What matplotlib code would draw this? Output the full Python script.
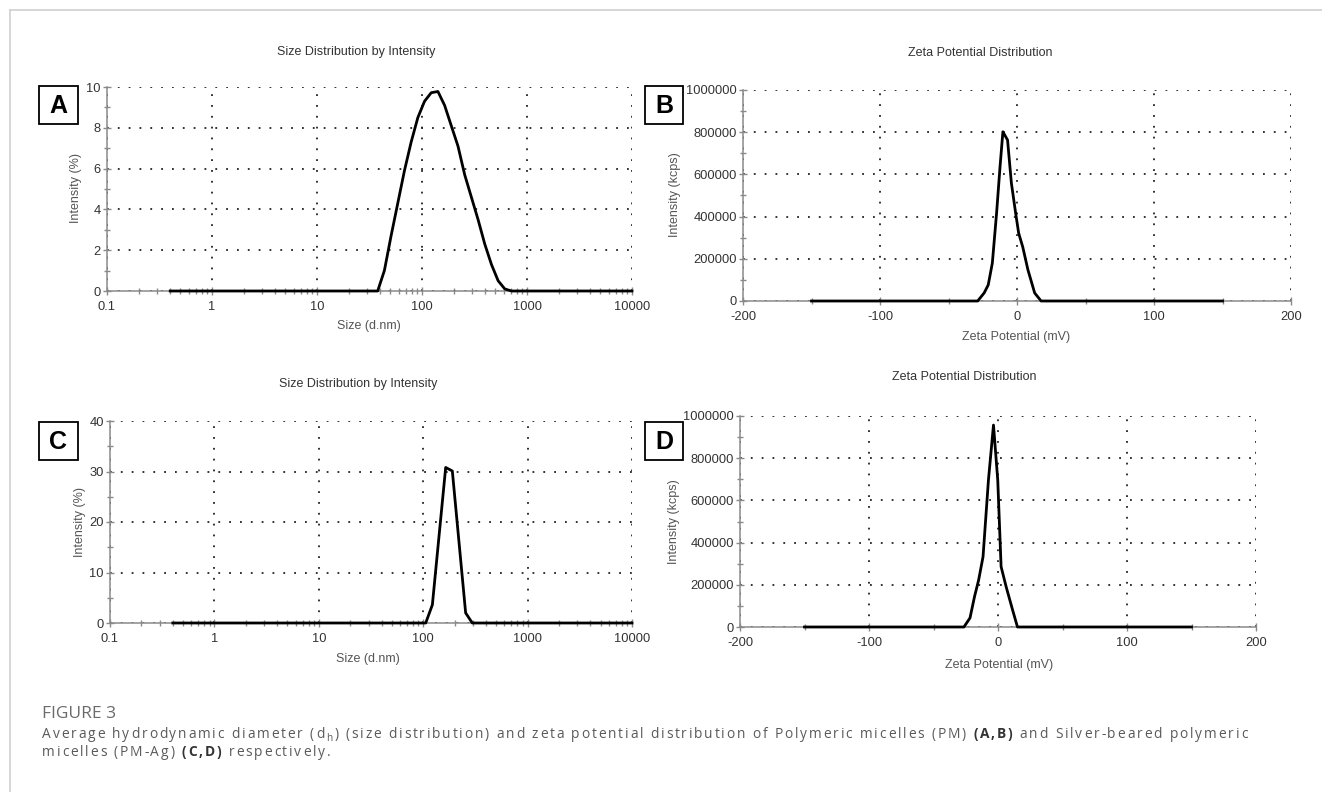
import matplotlib
matplotlib.use("Agg")
import matplotlib.pyplot as plt
from matplotlib import font_manager, ft2font
from matplotlib.font_manager import FontProperties
from matplotlib.patches import Rectangle
from matplotlib.lines import Line2D
from matplotlib.ticker import LogLocator, NullFormatter, MultipleLocator

# ---- data ----
# A: size distribution, polymeric micelles (PM)
size_a = [0.4, 37.84, 43.82, 50.75, 58.77, 68.06, 78.82, 91.28, 105.7, 122.4, 141.8,
          164.2, 190.1, 220.2, 255.0, 295.3, 342.0, 396.1, 458.7, 531.2, 615.1, 712.4, 10000]
int_a = [0, 0, 1.0, 2.7, 4.3, 5.9, 7.3, 8.5, 9.3, 9.72, 9.78,
         9.1, 8.1, 7.1, 5.7, 4.6, 3.5, 2.3, 1.3, 0.5, 0.1, 0, 0]

# B: zeta potential, PM
zeta_b = [-150, -28.7, -24, -21, -18, -14.9, -12.4, -10.3, -6.9, -4.1, -1, 1.2, 4.2, 8, 12.9, 17.6, 150]
kcps_b = [0, 0, 38000, 76000, 180000, 417000, 635000, 802000, 763000, 559000, 417000,
          322000, 256000, 147000, 38000, 0, 0]

# C: size distribution, silver-beared micelles (PM-Ag)
size_c = [0.4, 105.7, 122.4, 164.2, 190.1, 255.0, 295.3, 10000]
int_c = [0, 0, 3.6, 30.8, 30.1, 2.0, 0, 0]

# D: zeta potential, PM-Ag
zeta_d = [-150, -26.4, -21.7, -18.2, -15, -11.6, -7.4, -3.5, -0.2, 2.4, 6.3, 11.3, 15.1, 150]
kcps_d = [0, 0, 43000, 144000, 223000, 333000, 697000, 957000, 697000, 286000, 191000, 81000, 0, 0]

size_ticks = [0.1, 1, 10, 100, 1000, 10000]
size_labels = ["0.1", "1", "10", "100", "1000", "10000"]
zeta_ticks = [-200, -100, 0, 100, 200]
kcps_ticks = [0, 200000, 400000, 600000, 800000, 1000000]

W, H = 1322, 792
plt.rcParams['font.family'] = ['Liberation Sans', 'DejaVu Sans']

fig = plt.figure(figsize=(W / 100, H / 100), dpi=100)


def box(l, t, r, b):
    # pixel box (top-left origin) -> figure fraction rect
    return [l / W, 1 - b / H, (r - l) / W, (b - t) / H]


def ftext(x, y, s, **kw):
    return fig.text(x / W, 1 - y / H, s, **kw)


def style_axes(ax):
    for side in ["top", "right"]:
        ax.spines[side].set_visible(False)
    for side in ["left", "bottom"]:
        ax.spines[side].set_color("#8a8a8a")
        ax.spines[side].set_linewidth(1.1)
    ax.grid(True, which="major", linestyle=(0, (1, 5)), color="#222222", linewidth=1.3)
    ax.tick_params(which="major", direction="inout", length=6, width=1, color="#8a8a8a",
                   labelsize=9.3, labelcolor="#333333")
    ax.tick_params(which="minor", direction="inout", length=4, width=1, color="#8a8a8a")
    ax.tick_params(axis="x", which="major", pad=4)
    ax.tick_params(axis="y", which="major", pad=1.5)


def size_panel(rect, xs, ys, ymax, ystep):
    ax = fig.add_axes(rect)
    ax.set_xscale("log")
    ax.set_xlim(0.1, 10000)
    ax.set_ylim(0, ymax)
    ax.set_xticks(size_ticks)
    ax.set_xticklabels(size_labels)
    ax.xaxis.set_minor_locator(LogLocator(base=10, subs=range(2, 10), numticks=20))
    ax.xaxis.set_minor_formatter(NullFormatter())
    ax.yaxis.set_major_locator(MultipleLocator(ystep))
    ax.yaxis.set_minor_locator(MultipleLocator(ystep / 2))
    style_axes(ax)
    ax.plot(xs, ys, color="black", linewidth=2, clip_on=False, zorder=3,
            solid_joinstyle="round")
    return ax


def zeta_panel(rect, xs, ys):
    ax = fig.add_axes(rect)
    ax.set_xlim(-200, 200)
    ax.set_ylim(0, 1000000)
    ax.set_xticks(zeta_ticks)
    ax.set_xticklabels([str(v) for v in zeta_ticks])
    ax.xaxis.set_minor_locator(MultipleLocator(50))
    ax.set_yticks(kcps_ticks)
    ax.set_yticklabels([str(v) for v in kcps_ticks])
    ax.yaxis.set_minor_locator(MultipleLocator(100000))
    style_axes(ax)
    ax.plot(xs, ys, color="black", linewidth=2, clip_on=False, zorder=3,
            solid_joinstyle="round")
    return ax


size_panel(box(107, 87, 632, 291), size_a, int_a, 10, 2)
zeta_panel(box(743, 90, 1291, 301), zeta_b, kcps_b)
size_panel(box(110, 421, 632, 623), size_c, int_c, 40, 10)
zeta_panel(box(740, 416, 1256, 627), zeta_d, kcps_d)

# titles and axis labels
tkw = dict(ha="center", va="center", fontsize=9, color="#333333")
ftext(356, 52, "Size Distribution by Intensity", **tkw)
ftext(980, 53, "Zeta Potential Distribution", **tkw)
ftext(358, 384, "Size Distribution by Intensity", **tkw)
ftext(964, 377, "Zeta Potential Distribution", **tkw)

lkw = dict(ha="center", va="center", fontsize=9, color="#555555")
ftext(369, 326, "Size (d.nm)", **lkw)
ftext(1016, 337, "Zeta Potential (mV)", **lkw)
ftext(368, 659, "Size (d.nm)", **lkw)
ftext(999, 665, "Zeta Potential (mV)", **lkw)
ftext(76, 188, "Intensity (%)", rotation=90, **lkw)
ftext(675, 195, "Intensity (kcps)", rotation=90, **lkw)
ftext(80, 522, "Intensity (%)", rotation=90, **lkw)
ftext(674, 522, "Intensity (kcps)", rotation=90, **lkw)

# panel letters in boxes
for letter, (l, t, r, b) in zip("ABCD", [(39, 86, 78, 124), (645, 86, 683, 124),
                                       (39, 422, 78, 460), (645, 422, 683, 460)]):
    x0, y0, w, h = box(l, t, r, b)
    fig.patches.append(Rectangle((x0, y0), w, h, transform=fig.transFigure,
                                 facecolor="white", edgecolor="black", linewidth=1.3))
    ftext((l + r) / 2, (t + b) / 2 + 1, letter, ha="center", va="center",
          fontsize=18, fontweight="bold", color="black")

# card edges
fig.add_artist(Line2D([10 / W, 1], [1 - 10 / H, 1 - 10 / H], transform=fig.transFigure,
                      color="#cfcfcf", linewidth=1.2))
fig.add_artist(Line2D([10 / W, 10 / W], [0, 1 - 10 / H], transform=fig.transFigure,
                      color="#cfcfcf", linewidth=1.2))

# caption: the journal font is letter-spaced, so draw it glyph by glyph
cap_family = ["Open Sans", "DejaVu Sans"]
ftext(42, 718, "FIGURE 3", va="baseline", fontsize=12.5, color="#6a6a6a", family=cap_family)

no_hint = getattr(getattr(ft2font, "LoadFlags", None), "NO_HINTING", None)
if no_hint is None:
    no_hint = ft2font.LOAD_NO_HINTING
fonts = {}


def advance(ch, weight, size):
    key = (weight, size)
    if key not in fonts:
        prop = FontProperties(family=cap_family, weight=weight, size=size)
        f = ft2font.FT2Font(font_manager.findfont(prop))
        f.set_size(size, 100)
        fonts[key] = f
    g = fonts[key].load_char(ord(ch), flags=no_hint)
    return g.linearHoriAdvance / 65536


TRACK = 1.85


def caption_line(x, y, parts):
    for s, kind in parts:
        size, yy, weight, color = 9.9, y, "normal", "#5a5a5a"
        if kind == "sub":
            size, yy = 7.2, y + 3
        elif kind == "bold":
            weight, color = "bold", "#333333"
        for ch in s:
            if ch != " ":
                ftext(x, yy, ch, va="baseline", ha="left", fontsize=size, fontweight=weight,
                      color=color, family=cap_family)
            x += advance(ch, weight, size) + TRACK


caption_line(42, 738, [("Average hydrodynamic diameter (d", "n"), ("h", "sub"),
                       (") (size distribution) and zeta potential distribution of Polymeric micelles (PM) ", "n"),
                       ("(A,B)", "bold"), (" and Silver-beared polymeric", "n")])
caption_line(42, 756, [("micelles (PM-Ag) ", "n"), ("(C,D)", "bold"), (" respectively.", "n")])

fig.savefig("out.png", dpi=100, facecolor="white")
